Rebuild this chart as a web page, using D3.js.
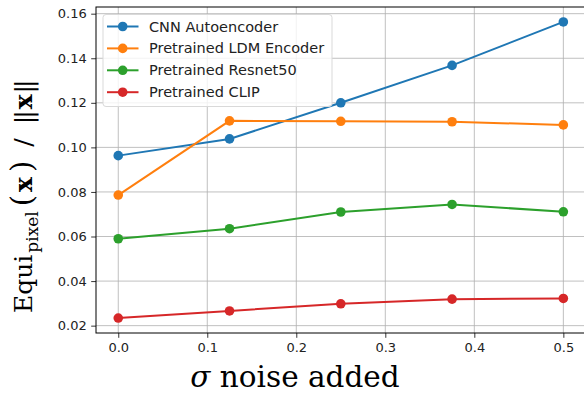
<!DOCTYPE html>
<html>
<head>
<meta charset="utf-8">
<script src="https://cdn.jsdelivr.net/npm/d3@7"></script>
<style>
  html, body { margin: 0; padding: 0; background: #fff; }
  svg text { font-family: "DejaVu Sans", sans-serif; }
</style>
</head>
<body>
<div id="chart"></div>
<script>
// noise levels on the x axis
const sigma = [0, 0.125, 0.25, 0.375, 0.5];

const seriesNames = ["CNN Autoencoder", "Pretrained LDM Encoder", "Pretrained Resnet50", "Pretrained CLIP"];
const cnnAutoencoder = [0.0963, 0.1038, 0.1200, 0.1368, 0.1563];
const ldmEncoder = [0.0786, 0.1119, 0.1117, 0.1115, 0.1101];
const resnet50 = [0.0590, 0.0635, 0.0710, 0.0744, 0.0711];
const clip = [0.0234, 0.0266, 0.0298, 0.0319, 0.0322];
const colors = ["#1f77b4", "#ff7f0e", "#2ca02c", "#d62728"];

const xTicks = [0, 0.1, 0.2, 0.3, 0.4, 0.5];
const yTicks = [0.02, 0.04, 0.06, 0.08, 0.10, 0.12, 0.14, 0.16];

const series = [cnnAutoencoder, ldmEncoder, resnet50, clip].map((vals, i) => ({
    name: seriesNames[i],
    color: colors[i],
    points: vals.map((v, j) => ({ x: sigma[j], y: v }))
}));

const width = 584, height = 394;
const margin = { left: 96, right: 0, top: 7, bottom: 61 };

const svg = d3.select("#chart").append("svg")
    .attr("width", width)
    .attr("height", height);

const x = d3.scaleLinear().domain([-0.025, 0.525]).range([margin.left, 585.6]);
const y = d3.scaleLinear().domain([0.0167, 0.163]).range([height - margin.bottom, margin.top]);

const plotBottom = height - margin.bottom;

// grid
const grid = svg.append("g").attr("stroke", "#b0b0b0").attr("stroke-width", 0.8);
grid.selectAll("line.gx").data(xTicks).join("line")
    .attr("x1", d => x(d)).attr("x2", d => x(d))
    .attr("y1", margin.top).attr("y2", plotBottom);
grid.selectAll("line.gy").data(yTicks).join("line")
    .attr("x1", margin.left).attr("x2", width)
    .attr("y1", d => y(d)).attr("y2", d => y(d));

// axes
const xAxis = svg.append("g")
    .attr("transform", `translate(0,${plotBottom})`)
    .call(d3.axisBottom(x).tickValues(xTicks).tickFormat(d3.format(".1f")).tickSize(4.8).tickPadding(4.5));
const yAxis = svg.append("g")
    .attr("transform", `translate(${margin.left},0)`)
    .call(d3.axisLeft(y).tickValues(yTicks).tickFormat(d3.format(".2f")).tickSize(4.8).tickPadding(4.5));

[xAxis, yAxis].forEach(a => {
    a.select(".domain").remove();
    a.selectAll("line").attr("stroke", "#000").attr("stroke-width", 0.8);
    a.selectAll("text").attr("font-size", 13).attr("fill", "#222")
        .style("font-family", "'DejaVu Sans', sans-serif");
});

// spines
svg.append("rect")
    .attr("x", margin.left).attr("y", margin.top)
    .attr("width", 585.6 - margin.left).attr("height", plotBottom - margin.top)
    .attr("fill", "none").attr("stroke", "#000").attr("stroke-width", 1);

// lines + markers
const line = d3.line().x(d => x(d.x)).y(d => y(d.y));
series.forEach(s => {
    svg.append("path")
        .datum(s.points)
        .attr("fill", "none")
        .attr("stroke", s.color)
        .attr("stroke-width", 2)
        .attr("d", line);
    svg.selectAll(null).data(s.points).join("circle")
        .attr("cx", d => x(d.x)).attr("cy", d => y(d.y))
        .attr("r", 4.8)
        .attr("fill", s.color);
});

// legend
const legend = svg.append("g").attr("transform", "translate(103,14.5)");
legend.append("rect")
    .attr("width", 229).attr("height", 92).attr("rx", 3)
    .attr("fill", "#fff").attr("fill-opacity", 0.8)
    .attr("stroke", "#d9d9d9").attr("stroke-width", 1);
series.forEach((s, i) => {
    const ly = 12 + i * 21.9;
    legend.append("line")
        .attr("x1", 4).attr("x2", 35.5).attr("y1", ly).attr("y2", ly)
        .attr("stroke", s.color).attr("stroke-width", 2);
    legend.append("circle").attr("cx", 19.7).attr("cy", ly).attr("r", 4.8).attr("fill", s.color);
    legend.append("text")
        .attr("x", 46).attr("y", ly).attr("dy", "0.35em")
        .attr("font-size", 14.5).attr("fill", "#222")
        .text(s.name);
});

// axis labels
const serif = "'DejaVu Serif', serif";
svg.append("text")
    .attr("x", 295).attr("y", 387)
    .attr("text-anchor", "middle")
    .attr("font-size", 29.5)
    .style("font-family", serif)
    .html('<tspan font-style="italic">σ</tspan> noise added');

// Equi_pixel(x) / ||x||  -- pieces spaced by hand to mimic mathtext
const ylab = svg.append("text")
    .attr("transform", "translate(32,313) rotate(-90)")
    .attr("text-anchor", "start")
    .attr("font-size", 25)
    .style("font-family", serif);
ylab.append("tspan").text("Equi");
ylab.append("tspan").attr("font-size", 17).attr("dy", 6).attr("dx", 2).text("pixel");
ylab.append("tspan").attr("font-size", 29).attr("dy", -6).attr("dx", 5).text("(");
ylab.append("tspan").attr("font-weight", "bold").attr("dx", 3).text("x");
ylab.append("tspan").attr("font-size", 29).attr("dx", 5).text(")");
ylab.append("tspan").attr("dx", 14).text("/");
ylab.append("tspan").attr("dx", 14).text("|");
ylab.append("tspan").attr("dx", -3).text("|");
ylab.append("tspan").attr("font-weight", "bold").attr("dx", 1).text("x");
ylab.append("tspan").attr("dx", 1).text("|");
ylab.append("tspan").attr("dx", -3).text("|");
</script>
</body>
</html>
